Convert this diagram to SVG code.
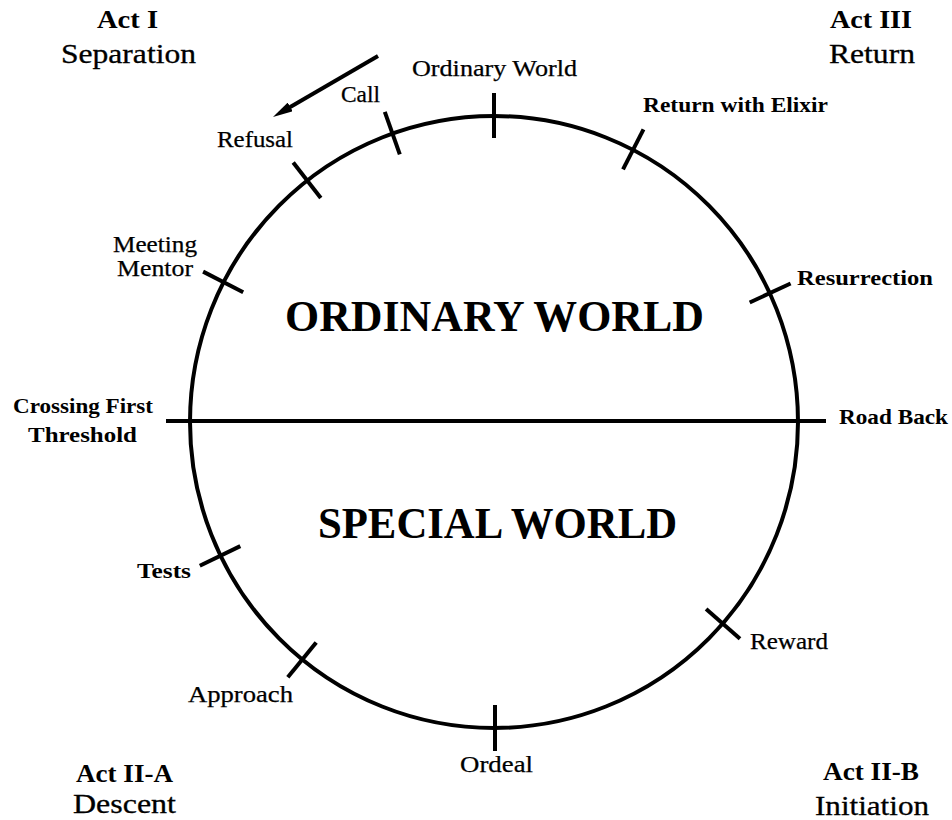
<svg xmlns="http://www.w3.org/2000/svg" width="952" height="820" viewBox="0 0 952 820">
<style>
text{font-family:"Liberation Serif","DejaVu Serif",serif;fill:#000;}
.act{font-size:26px;font-weight:bold;}
.sub{font-size:27px;font-weight:normal;stroke:#000;stroke-width:0.3;}
.lbl{font-size:23px;font-weight:normal;stroke:#000;stroke-width:0.25;}
.lb{font-size:21px;font-weight:bold;}
.big{font-size:44px;font-weight:bold;}
.ln{stroke:#000;stroke-width:4;fill:none;}
</style>
<defs>
<marker id="ah" viewBox="0 0 20 10" refX="4" refY="5" markerWidth="20" markerHeight="10" markerUnits="userSpaceOnUse" orient="auto">
<path d="M0,0 L20,5 L0,10 z" fill="#000"/>
</marker>
</defs>
<rect width="952" height="820" fill="#fff"/>
<g id="wheel">
<ellipse class="ln" cx="494" cy="422" rx="304" ry="306"/>
<line class="ln" x1="166" y1="421" x2="826" y2="421"/>
<text class="big" x="285" y="331" textLength="419" lengthAdjust="spacingAndGlyphs">ORDINARY WORLD</text>
<text class="big" x="318" y="538" textLength="359" lengthAdjust="spacingAndGlyphs">SPECIAL WORLD</text>
</g>
<g id="act1"><text class="act" x="97" y="28" textLength="61" lengthAdjust="spacingAndGlyphs">Act I</text><text class="sub" x="61" y="63" textLength="135" lengthAdjust="spacingAndGlyphs">Separation</text></g>
<g id="act3"><text class="act" x="830" y="28" textLength="82" lengthAdjust="spacingAndGlyphs">Act III</text><text class="sub" x="829" y="63" textLength="86" lengthAdjust="spacingAndGlyphs">Return</text></g>
<g id="act2a"><text class="act" x="76" y="782" textLength="97" lengthAdjust="spacingAndGlyphs">Act II-A</text><text class="sub" x="73" y="813" textLength="103" lengthAdjust="spacingAndGlyphs">Descent</text></g>
<g id="act2b"><text class="act" x="823" y="780" textLength="96" lengthAdjust="spacingAndGlyphs">Act II-B</text><text class="sub" x="815" y="815" textLength="114" lengthAdjust="spacingAndGlyphs">Initiation</text></g>
<g id="ordinary-world"><line class="ln" x1="494" y1="93" x2="494" y2="138"/><text class="lbl" x="412" y="76" textLength="165" lengthAdjust="spacingAndGlyphs">Ordinary World</text></g>
<g id="call"><line class="ln" x1="384.8" y1="111.9" x2="399.8" y2="154.3"/><text class="lbl" x="341" y="102" textLength="39" lengthAdjust="spacingAndGlyphs">Call</text></g>
<g id="refusal"><line class="ln" x1="293.2" y1="162.4" x2="320.8" y2="197.9"/><text class="lbl" x="217" y="147" textLength="76" lengthAdjust="spacingAndGlyphs">Refusal</text></g>
<g id="meeting-mentor"><line class="ln" x1="203.1" y1="271.6" x2="243.2" y2="292.2"/><text class="lbl" x="113" y="252" textLength="84" lengthAdjust="spacingAndGlyphs">Meeting</text><text class="lbl" x="117" y="276" textLength="76" lengthAdjust="spacingAndGlyphs">Mentor</text></g>
<g id="crossing-threshold"><text class="lb" x="13" y="413" textLength="140" lengthAdjust="spacingAndGlyphs">Crossing First</text><text class="lb" x="28" y="442" textLength="109" lengthAdjust="spacingAndGlyphs">Threshold</text></g>
<g id="tests"><line class="ln" x1="199.8" y1="565.7" x2="240.3" y2="546.1"/><text class="lb" x="137" y="578" textLength="54" lengthAdjust="spacingAndGlyphs">Tests</text></g>
<g id="approach"><line class="ln" x1="287.8" y1="677.3" x2="316.2" y2="642.4"/><text class="lbl" x="188" y="702" textLength="105" lengthAdjust="spacingAndGlyphs">Approach</text></g>
<g id="ordeal"><line class="ln" x1="495" y1="705" x2="495" y2="751"/><text class="lbl" x="460" y="772" textLength="73" lengthAdjust="spacingAndGlyphs">Ordeal</text></g>
<g id="reward"><line class="ln" x1="740" y1="638.7" x2="706.1" y2="609.1"/><text class="lbl" x="750" y="649" textLength="78" lengthAdjust="spacingAndGlyphs">Reward</text></g>
<g id="road-back"><text class="lb" x="839" y="424" textLength="109" lengthAdjust="spacingAndGlyphs">Road Back</text></g>
<g id="resurrection"><line class="ln" x1="790.6" y1="283.5" x2="749.7" y2="302.5"/><text class="lb" x="797" y="285" textLength="136" lengthAdjust="spacingAndGlyphs">Resurrection</text></g>
<g id="return-elixir"><line class="ln" x1="643.5" y1="129.3" x2="623" y2="169.4"/><text class="lb" x="643" y="112" textLength="185" lengthAdjust="spacingAndGlyphs">Return with Elixir</text></g>
<g id="connectors">
<line class="ln" x1="378" y1="56" x2="286.8" y2="108.9" marker-end="url(#ah)"/>
</g>
</svg>
